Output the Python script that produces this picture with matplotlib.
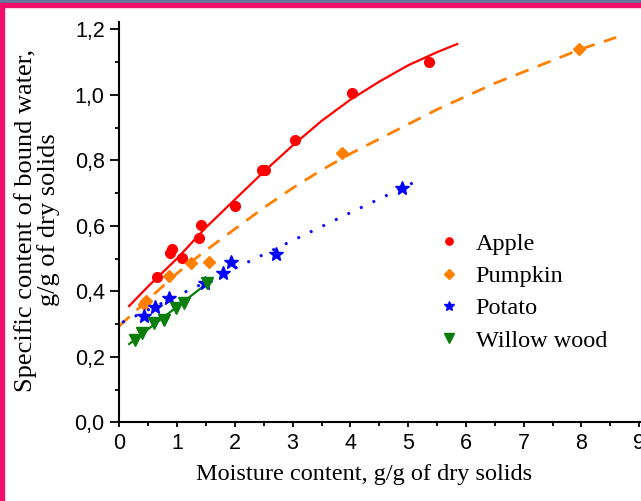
import matplotlib.pyplot as plt
from matplotlib.patches import Rectangle
from matplotlib.ticker import MultipleLocator

# measured points (moisture content, bound water)
apple_x = [0.66, 0.88, 0.91, 1.09, 1.38, 1.42, 2.01, 2.47, 2.52, 3.04, 4.03, 5.36]
apple_y = [0.445, 0.518, 0.528, 0.503, 0.564, 0.602, 0.661, 0.770, 0.770, 0.862, 1.005, 1.10]

pumpkin_x = [0.43, 0.47, 0.86, 1.235, 1.55, 3.86, 7.96]
pumpkin_y = [0.360, 0.370, 0.447, 0.485, 0.490, 0.822, 1.139]

potato_x = [0.43, 0.62, 0.86, 1.48, 1.79, 1.94, 2.71, 4.89]
potato_y = [0.326, 0.353, 0.380, 0.424, 0.457, 0.490, 0.514, 0.716]

willow_x = [0.27, 0.39, 0.60, 0.77, 0.98, 1.12, 1.51]
willow_y = [0.250, 0.272, 0.302, 0.312, 0.348, 0.363, 0.424]

# fitted curves
apple_fit_x = [0.17, 0.5, 1.0, 1.5, 2.0, 2.5, 3.0, 3.5, 4.0, 4.5, 5.0, 5.5, 5.85]
apple_fit_y = [0.355, 0.415, 0.50, 0.595, 0.68, 0.765, 0.845, 0.92, 0.985, 1.04, 1.09, 1.13, 1.155]

pumpkin_fit_x = [0.0, 0.5, 1.0, 1.5, 2.0, 2.5, 3.0, 3.5, 4.0, 4.5, 5.0, 5.5, 6.0, 6.5, 7.0, 7.5, 8.0, 8.6]
pumpkin_fit_y = [0.294, 0.375, 0.455, 0.525, 0.59, 0.655, 0.715, 0.77, 0.82, 0.865, 0.91, 0.955,
                 0.995, 1.035, 1.07, 1.105, 1.14, 1.175]

potato_fit_x = [0.05, 1.0, 2.0, 3.0, 4.0, 5.0, 5.25]
potato_fit_y = [0.305, 0.386, 0.47, 0.555, 0.64, 0.724, 0.745]

willow_fit_x = [0.17, 0.6, 1.0, 1.6]
willow_fit_y = [0.239, 0.298, 0.353, 0.435]

ytick_vals = [0.0, 0.2, 0.4, 0.6, 0.8, 1.0, 1.2]
ytick_labels = ['0,0', '0,2', '0,4', '0,6', '0,8', '1,0', '1,2']
xtick_vals = [0, 1, 2, 3, 4, 5, 6, 7, 8, 9]

red = '#ff0000'
orange = '#ff8000'
blue = '#0000ff'
green = '#0a7d0a'

plt.rcParams['font.family'] = ['Liberation Sans', 'DejaVu Sans']

fig = plt.figure(figsize=(6.41, 5.01), dpi=100)
ax = fig.add_axes([0.1861, 0.1571, 0.8139, 0.7989])

ax.plot(apple_fit_x, apple_fit_y, color=red, lw=1.6)
ax.plot(pumpkin_fit_x, pumpkin_fit_y, color=orange, lw=2, dashes=(5, 3.5))
ax.plot(potato_fit_x, potato_fit_y, color=blue, lw=2, dashes=(1, 4))
ax.plot(willow_fit_x, willow_fit_y, color=green, lw=1.6)

ax.plot(apple_x, apple_y, 'o', color=red, ms=7, label='Apple')
ax.plot(pumpkin_x, pumpkin_y, 'D', color=orange, ms=6.5, label='Pumpkin')
ax.plot(potato_x, potato_y, '*', color=blue, ms=10, label='Potato')
ax.plot(willow_x, willow_y, 'v', color=green, ms=9, label='Willow wood')

ax.set_xlim(0, 9.03)
ax.set_ylim(0, 1.222)
ax.set_xticks(xtick_vals)
ax.set_yticks(ytick_vals)
ax.set_yticklabels(ytick_labels)
ax.xaxis.set_minor_locator(MultipleLocator(0.5))
ax.yaxis.set_minor_locator(MultipleLocator(0.1))

for s in ['top', 'right']:
    ax.spines[s].set_visible(False)
for s in ['left', 'bottom']:
    ax.spines[s].set_linewidth(1.5)

ax.tick_params(axis='x', which='major', length=3.6, width=1.3, pad=4, labelsize=15.5)
ax.tick_params(axis='x', which='minor', length=2.7, width=1.3)
ax.tick_params(axis='y', which='major', length=6.5, width=1.3, pad=4, labelsize=15.5)
ax.tick_params(axis='y', which='minor', length=3.1, width=1.3)

ax.set_xlabel('Moisture content, g/g of dry solids', family='Liberation Serif', fontsize=17.5)
ax.xaxis.set_label_coords(0.469, -0.105)

fig.text(37 / 641, 1 - 220 / 501, 'Specific content of bound water,\ng/g of dry solids',
         rotation=90, ha='center', va='center', multialignment='center',
         family='Liberation Serif', fontsize=19, linespacing=1.05)

leg = ax.legend(loc='upper left', bbox_to_anchor=(415 / 641, 1 - 211 / 501),
                bbox_transform=fig.transFigure, frameon=False, markerscale=0.75,
                handlelength=1.0, handletextpad=0.6, labelspacing=0.42,
                prop={'family': 'Liberation Serif', 'size': 17.5})

# pink frame of the screenshot
fig.patches.append(Rectangle((0, 1 - 3 / 501), 1, 3 / 501, transform=fig.transFigure,
                             color='#5f7d99', zorder=10))
fig.patches.append(Rectangle((0, 1 - 7 / 501), 1, 4 / 501, transform=fig.transFigure,
                             color='#f2106b', zorder=10))
fig.patches.append(Rectangle((0, 0), 4 / 641, 1 - 3 / 501, transform=fig.transFigure,
                             color='#f2106b', zorder=10))

fig.savefig('out.png', dpi=100)
